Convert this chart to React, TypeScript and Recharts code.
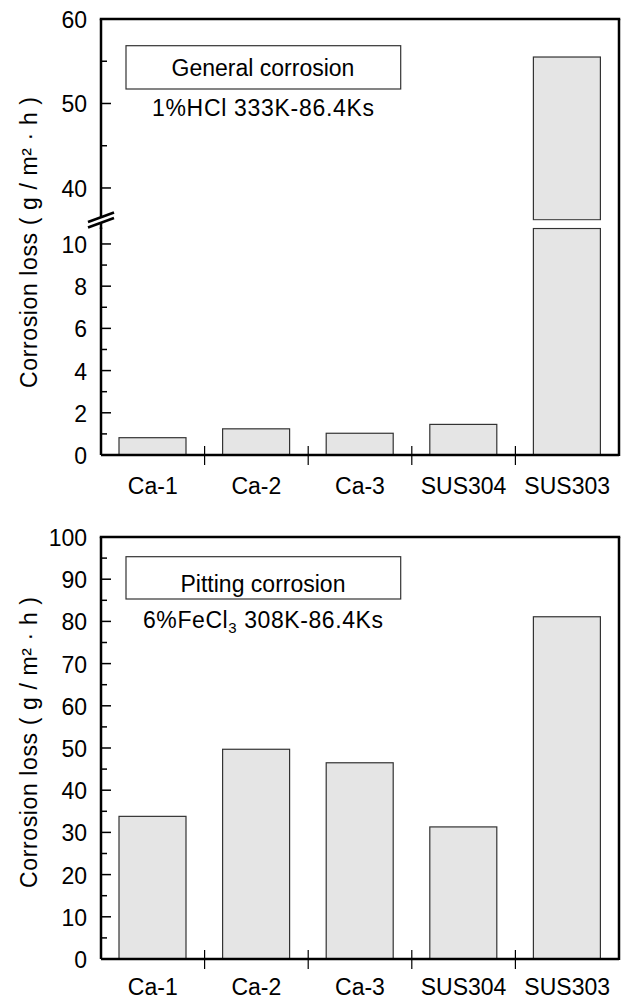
import React from 'react'
import { BarChart, Bar, XAxis, YAxis } from 'recharts'

const categories = ['Ca-1', 'Ca-2', 'Ca-3', 'SUS304', 'SUS303']
const generalLoss = [0.82, 1.24, 1.03, 1.45, 55.5]
const pittingLoss = [33.8, 49.7, 46.5, 31.3, 81.1]

const lowTicks = [0, 1, 2, 3, 4, 5, 6, 7, 8, 9, 10]
const highTicks = [40, 45, 50, 55, 60]
const pittingTicks = [0, 5, 10, 15, 20, 25, 30, 35, 40, 45, 50, 55, 60, 65, 70, 75, 80, 85, 90, 95, 100]

// broken axis: lower part 0..LOW_MAX, upper part HIGH_MIN..60
const LOW_MAX = 10.78
const HIGH_MIN = 36.15

const FONT = '"Liberation Sans", Arial, sans-serif'
const AXIS_X = 101
const PLOT_R = 619
const BAND = (PLOT_R - AXIS_X) / categories.length
const FILL = '#e5e5e5'
const EDGE = '#333'

const lowData = categories.map((name, i) => ({ name, value: generalLoss[i] }))
const highData = categories.map((name, i) => ({ name, value: generalLoss[i] > HIGH_MIN ? generalLoss[i] : null }))
const pitData = categories.map((name, i) => ({ name, value: pittingLoss[i] }))

function ClampBar(props: any) {
  const { x, width, minTop, maxBottom } = props
  let top = props.y
  let bottom = props.y + props.height
  if (!isFinite(top) || !isFinite(bottom) || props.height < 0.5) return <g />
  if (minTop != null) top = Math.max(top, minTop)
  if (maxBottom != null) bottom = Math.min(bottom, maxBottom)
  return <rect x={x} y={top} width={width} height={bottom - top} fill={FILL} stroke={EDGE} strokeWidth={1.2} />
}

function YTick(props: any) {
  const { y, payload, step } = props
  const v = payload.value
  const major = v % step === 0
  return (
    <g>
      <line x1={AXIS_X} x2={AXIS_X + (major ? 10 : 6)} y1={y} y2={y} stroke="#000" strokeWidth={1.5} />
      {major && (
        <text x={87} y={y + 9} textAnchor="end" fontSize={23} fontFamily={FONT} fill="#000">
          {v}
        </text>
      )}
    </g>
  )
}

function XTick(props: any) {
  const { x, payload, index, axisY, labelGap } = props
  return (
    <g>
      {index > 0 && (
        <line x1={x - BAND / 2} x2={x - BAND / 2} y1={axisY - 9} y2={axisY + 10} stroke="#000" strokeWidth={1.2} />
      )}
      <text x={x} y={axisY + labelGap} textAnchor="middle" fontSize={23} fontFamily={FONT} fill="#000">
        {payload.value}
      </text>
    </g>
  )
}

function YLabel({ cy }: { cy: number }) {
  return (
    <text
      x={37}
      y={cy}
      transform={`rotate(-90 37 ${cy})`}
      textAnchor="middle"
      fontSize={23}
      fontFamily={FONT}
      textLength={291}
      lengthAdjust="spacing"
    >
      Corrosion loss ( g / m² · h )
    </text>
  )
}

export default function App() {
  return (
    <div style={{ position: 'absolute', left: 0, top: 0, width: 624, height: 1001, background: '#fff', fontFamily: FONT }}>
      {/* upper segment of the broken axis */}
      <div style={{ position: 'absolute', left: 0, top: 0 }}>
        <BarChart width={624} height={221} data={highData} margin={{ top: 19, right: 5, bottom: 0.5, left: 0 }}>
          <XAxis dataKey="name" hide />
          <YAxis
            width={101}
            domain={[HIGH_MIN, 60]}
            allowDataOverflow
            ticks={highTicks}
            interval={0}
            axisLine={{ stroke: '#000', strokeWidth: 2.5 }}
            tickLine={false}
            tick={<YTick step={10} />}
          />
          <Bar dataKey="value" barSize={67} isAnimationActive={false} shape={(p: any) => <ClampBar {...p} maxBottom={219.8} />} />
        </BarChart>
      </div>

      {/* lower segment */}
      <div style={{ position: 'absolute', left: 0, top: 0 }}>
        <BarChart width={624} height={500} data={lowData} margin={{ top: 227.5, right: 5, bottom: 0, left: 0 }}>
          <XAxis
            dataKey="name"
            height={45}
            interval={0}
            axisLine={{ stroke: '#000', strokeWidth: 2.5 }}
            tickLine={false}
            tick={<XTick axisY={455} labelGap={39} />}
          />
          <YAxis
            width={101}
            domain={[0, LOW_MAX]}
            allowDataOverflow
            ticks={lowTicks}
            interval={0}
            axisLine={{ stroke: '#000', strokeWidth: 2.5 }}
            tickLine={false}
            tick={<YTick step={2} />}
          />
          <Bar dataKey="value" barSize={67} isAnimationActive={false} shape={(p: any) => <ClampBar {...p} minTop={228.5} />} />
        </BarChart>
      </div>

      {/* pitting corrosion */}
      <div style={{ position: 'absolute', left: 0, top: 500 }}>
        <BarChart width={624} height={501} data={pitData} margin={{ top: 37, right: 5, bottom: 0, left: 0 }}>
          <XAxis
            dataKey="name"
            height={42}
            interval={0}
            axisLine={{ stroke: '#000', strokeWidth: 2.5 }}
            tickLine={false}
            tick={<XTick axisY={459} labelGap={35.5} />}
          />
          <YAxis
            width={101}
            domain={[0, 100]}
            ticks={pittingTicks}
            interval={0}
            axisLine={{ stroke: '#000', strokeWidth: 2.5 }}
            tickLine={false}
            tick={<YTick step={10} />}
          />
          <Bar dataKey="value" barSize={67} isAnimationActive={false} shape={(p: any) => <ClampBar {...p} />} />
        </BarChart>
      </div>

      <svg width={624} height={1001} style={{ position: 'absolute', left: 0, top: 0, pointerEvents: 'none' }}>
        {/* frame, top figure */}
        <line x1={99.75} x2={620.25} y1={19} y2={19} stroke="#000" strokeWidth={2.5} />
        <line x1={619} x2={619} y1={19} y2={456} stroke="#000" strokeWidth={2.5} />
        <line x1={AXIS_X} x2={AXIS_X} y1={219} y2={229} stroke="#000" strokeWidth={2.5} />
        {/* break marks */}
        <polygon points="88,222 114,212.5 114,218 88,227.5" fill="#fff" />
        <line x1={88} y1={222} x2={114} y2={212.5} stroke="#000" strokeWidth={2.5} />
        <line x1={88} y1={227.5} x2={114} y2={218} stroke="#000" strokeWidth={2.5} />

        <rect x={126} y={45.7} width={274.7} height={43.3} fill="#fff" stroke={EDGE} strokeWidth={1.2} />
        <text x={263} y={75.5} textAnchor="middle" fontSize={23} fontFamily={FONT}>General corrosion</text>
        <text x={263} y={116} textAnchor="middle" fontSize={23} fontFamily={FONT} textLength={222} lengthAdjust="spacing">
          1%HCl 333K-86.4Ks
        </text>
        <YLabel cy={242.5} />

        {/* frame, bottom figure */}
        <line x1={99.75} x2={620.25} y1={537} y2={537} stroke="#000" strokeWidth={2.5} />
        <line x1={619} x2={619} y1={537} y2={960} stroke="#000" strokeWidth={2.5} />

        <rect x={126} y={556.7} width={274.7} height={42.3} fill="#fff" stroke={EDGE} strokeWidth={1.2} />
        <text x={263} y={591.5} textAnchor="middle" fontSize={23} fontFamily={FONT}>Pitting corrosion</text>
        <text x={263} y={628} textAnchor="middle" fontSize={23} fontFamily={FONT} textLength={240} lengthAdjust="spacing">
          6%FeCl<tspan fontSize={15} dy={5}>3</tspan>
          <tspan dy={-5}> 308K-86.4Ks</tspan>
        </text>
        <YLabel cy={742.5} />
      </svg>
    </div>
  )
}
